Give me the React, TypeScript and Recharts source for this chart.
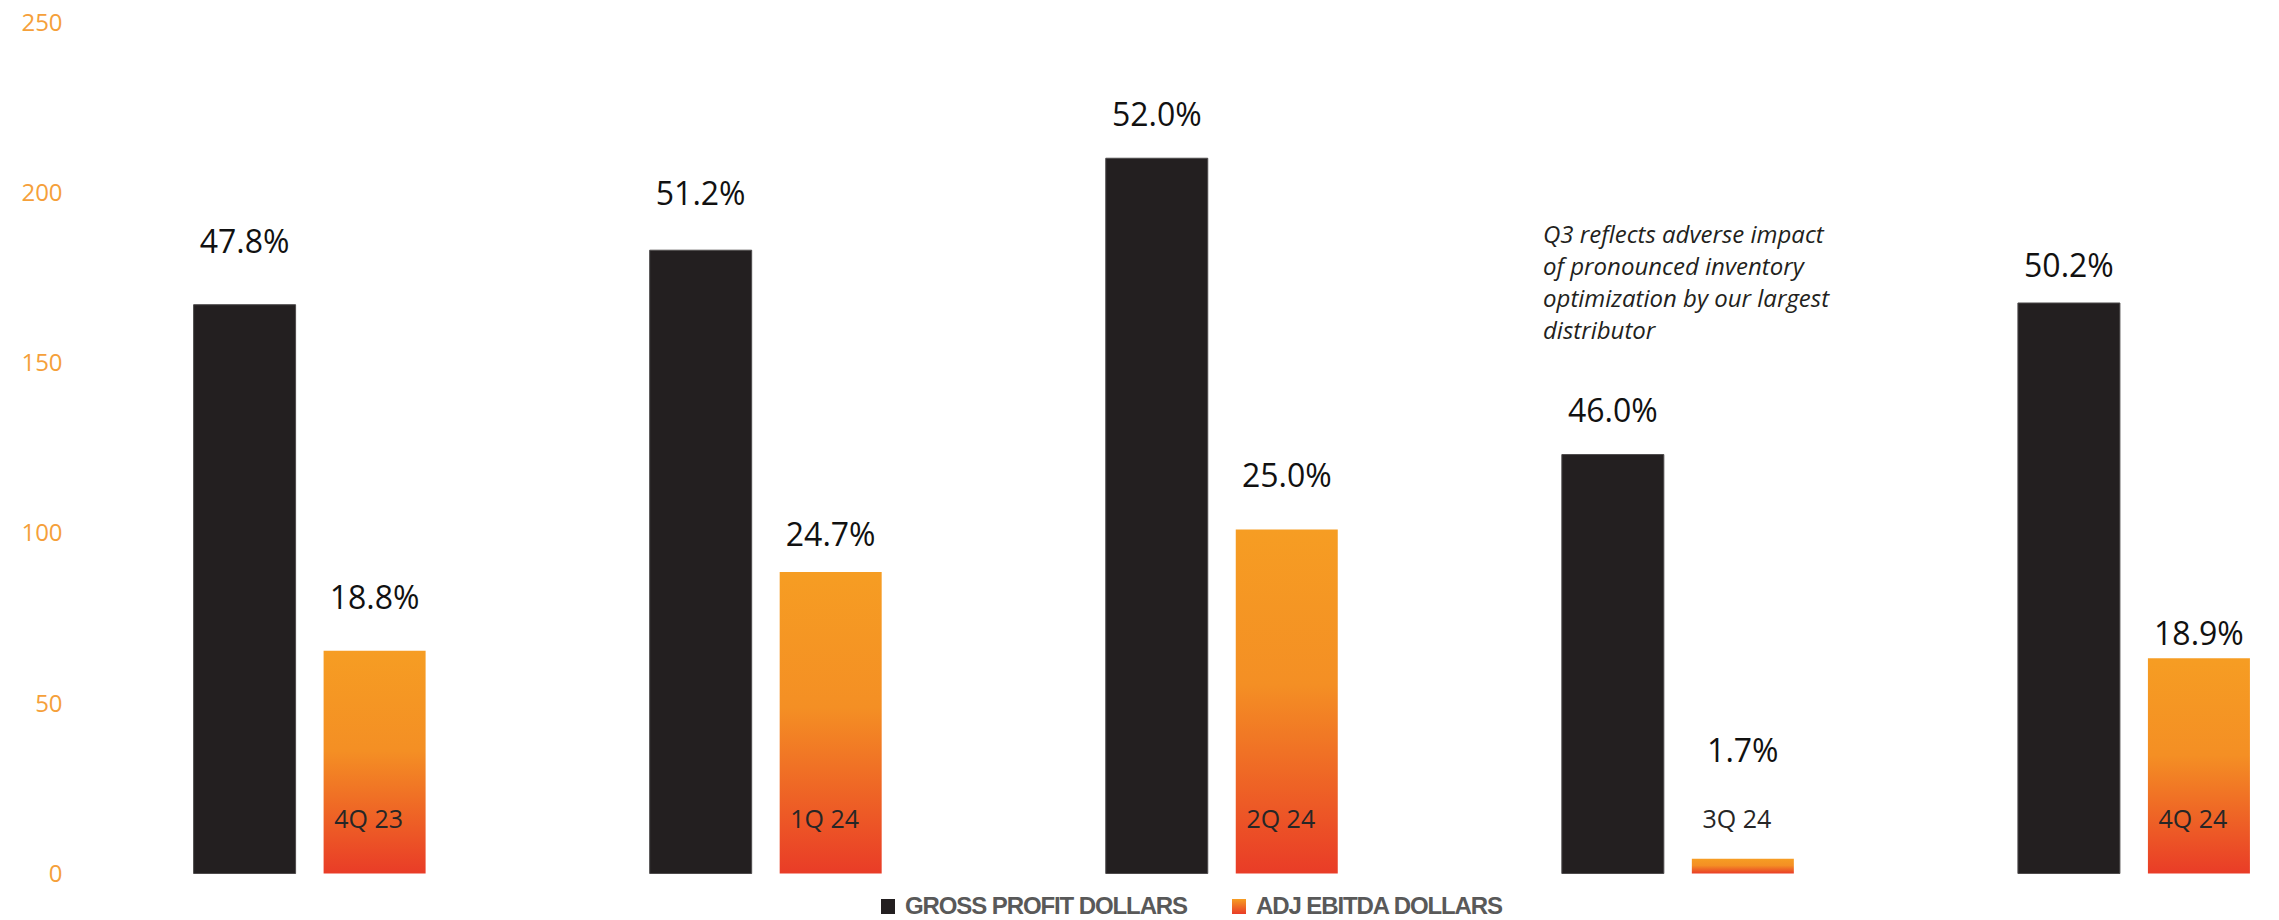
import { BarChart, Bar, XAxis, YAxis, LabelList } from 'recharts';

const quarters = ['4Q 23', '1Q 24', '2Q 24', '3Q 24', '4Q 24'];
const grossProfit = [167, 183, 210, 123, 167.5];
const adjEbitda = [65.4, 88.5, 101, 4.3, 63.2];
const grossMargin = ['47.8%', '51.2%', '52.0%', '46.0%', '50.2%'];
const ebitdaMargin = ['18.8%', '24.7%', '25.0%', '1.7%', '18.9%'];
const yTicks = [0, 50, 100, 150, 200, 250];
const seriesNames = ['GROSS PROFIT DOLLARS', 'ADJ EBITDA DOLLARS'];
const noteLines = [
  'Q3 reflects adverse impact',
  'of pronounced inventory',
  'optimization by our largest',
  'distributor',
];

// how far each % label sits above its bar top (px), placed by hand on the slide
const gpLift = [64, 58, 45, 45, 38];
const ebLift = [54, 39, 55, 109, 26];

const chartData = quarters.map((q, i) => ({
  quarter: q,
  gross: grossProfit[i],
  ebitda: adjEbitda[i],
  grossPct: grossMargin[i],
  ebitdaPct: ebitdaMargin[i],
}));

const BAR = 102;
const GAP = 28;

const pctLabel = (lift: number[]) => (props: any) => {
  const { x, y, width, index, value } = props;
  return (
    <text
      x={x + width / 2}
      y={y - lift[index]}
      textAnchor="middle"
      dominantBaseline="central"
      fontFamily="'Open Sans', sans-serif"
      fontSize={32}
      fill="#111111"
    >
      {value}
    </text>
  );
};

// quarter name drawn inside the bottom of the orange bar
const QuarterTick = (props: any) => {
  const { x, y, payload } = props;
  return (
    <text
      x={x + (BAR + GAP) / 2 - 6}
      y={y - 56}
      textAnchor="middle"
      dominantBaseline="central"
      fontFamily="'Open Sans', sans-serif"
      fontSize={25}
      fill="#262626"
    >
      {payload.value}
    </text>
  );
};

export default function App() {
  // negative top margin cancels the body margin so the top tick label has room
  return (
    <div style={{ position: 'relative', width: 2271, height: 920, marginTop: -8, overflow: 'hidden' }}>
      <BarChart
        width={2354}
        height={920}
        data={chartData}
        margin={{ top: 22, right: 0, bottom: 16.5, left: 0 }}
        barGap={GAP}
      >
        <defs>
          <linearGradient id="ebitdaFill" x1="0" y1="0" x2="0" y2="1">
            <stop offset="0%" stopColor="#f69d23" />
            <stop offset="45%" stopColor="#f48f24" />
            <stop offset="100%" stopColor="#e93c27" />
          </linearGradient>
        </defs>
        <XAxis
          dataKey="quarter"
          height={30}
          axisLine={false}
          tickLine={false}
          tickSize={0}
          tickMargin={0}
          tick={<QuarterTick />}
          interval={0}
        />
        <YAxis
          width={73.6}
          domain={[0, 250]}
          ticks={yTicks}
          axisLine={false}
          tickLine={false}
          tickSize={0}
          tickMargin={19}
          tick={{ fill: '#f5a03a', fontSize: 24, fontFamily: "'Open Sans', sans-serif" }}
        />
        <Bar dataKey="gross" name={seriesNames[0]} fill="#231f20" stroke="#4d4a4b" strokeWidth={1} barSize={BAR} isAnimationActive={false}>
          <LabelList dataKey="grossPct" content={pctLabel(gpLift)} />
        </Bar>
        <Bar dataKey="ebitda" name={seriesNames[1]} fill="url(#ebitdaFill)" barSize={BAR} isAnimationActive={false}>
          <LabelList dataKey="ebitdaPct" content={pctLabel(ebLift)} />
        </Bar>
      </BarChart>

      <div
        style={{
          position: 'absolute',
          left: 1535,
          top: 218,
          fontFamily: "'Open Sans', sans-serif",
          fontStyle: 'italic',
          fontSize: 24,
          lineHeight: '32px',
          color: '#231f20',
          whiteSpace: 'nowrap',
        }}
      >
        {noteLines.map((l) => (
          <div key={l}>{l}</div>
        ))}
      </div>

      {seriesNames.map((name, i) => (
        <div
          key={name}
          style={{
            position: 'absolute',
            left: i === 0 ? 873 : 1224,
            top: 892,
            height: 28,
            display: 'flex',
            alignItems: 'center',
            fontFamily: "'Liberation Sans', Arial, sans-serif",
            fontWeight: 'bold',
            fontSize: 24,
            letterSpacing: -1.1,
            color: '#595959',
            whiteSpace: 'nowrap',
          }}
        >
          <span
            style={{
              display: 'inline-block',
              width: 14,
              height: 15,
              marginRight: 10,
              background: i === 0 ? '#231f20' : 'linear-gradient(#f69d23, #e93c27)',
            }}
          />
          {name}
        </div>
      ))}
    </div>
  );
}
